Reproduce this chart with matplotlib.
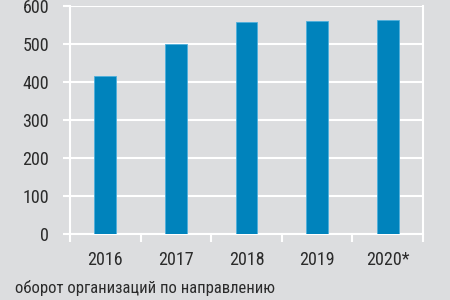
import matplotlib.pyplot as plt
from matplotlib import font_manager

years = ["2016", "2017", "2018", "2019", "2020*"]
values = [417, 500, 557, 560, 564]
y_ticks = [0, 100, 200, 300, 400, 500, 600]
footnote = "оборот организаций по направлению"

# narrow font like the original, first one that is installed
names = {f.name for f in font_manager.fontManager.ttflist}
family = "DejaVu Sans"
for cand in ["Roboto Condensed", "Archivo Narrow", "Liberation Sans Narrow", "Liberation Sans"]:
    if cand in names:
        family = cand
        break
plt.rcParams["font.family"] = [family, "DejaVu Sans"]

bg = "#dcdddf"
bar_color = "#0083bc"
text_color = "#2b2b2b"

fig = plt.figure(figsize=(4.5, 3), dpi=100, facecolor=bg)
ax = fig.add_axes([70 / 450, 1 - 234 / 300, 353 / 450, 228 / 300], facecolor=bg)

x = list(range(len(years)))
ax.bar(x, values, width=0.31, color=bar_color, edgecolor="#4fb0dc", linewidth=0.6, zorder=3)

ax.set_xlim(-0.5, len(years) - 0.5)
ax.set_ylim(0, 600)
ax.set_yticks(y_ticks)
ax.set_yticklabels([str(v) for v in y_ticks])
ax.set_xticks(x)
ax.set_xticklabels(years)
ax.set_xticks([i - 0.5 for i in range(len(years) + 1)], minor=True)

ax.grid(axis="y", color="white", linewidth=1.5, zorder=1)
for s in ["left", "right", "bottom"]:
    ax.spines[s].set_color("white")
    ax.spines[s].set_linewidth(1.5)
ax.spines["top"].set_visible(False)

ax.tick_params(axis="y", length=5, width=1.5, color="white", pad=10,
               labelsize=13, labelcolor=text_color)
ax.tick_params(axis="x", which="major", length=0, pad=12,
               labelsize=13, labelcolor=text_color)
ax.tick_params(axis="x", which="minor", length=6, width=1.5, color="white")

fig.text(15 / 450, 1 - 288 / 300, footnote, fontsize=12, color=text_color,
         ha="left", va="center")

fig.savefig("out.png", dpi=100, facecolor=bg)
